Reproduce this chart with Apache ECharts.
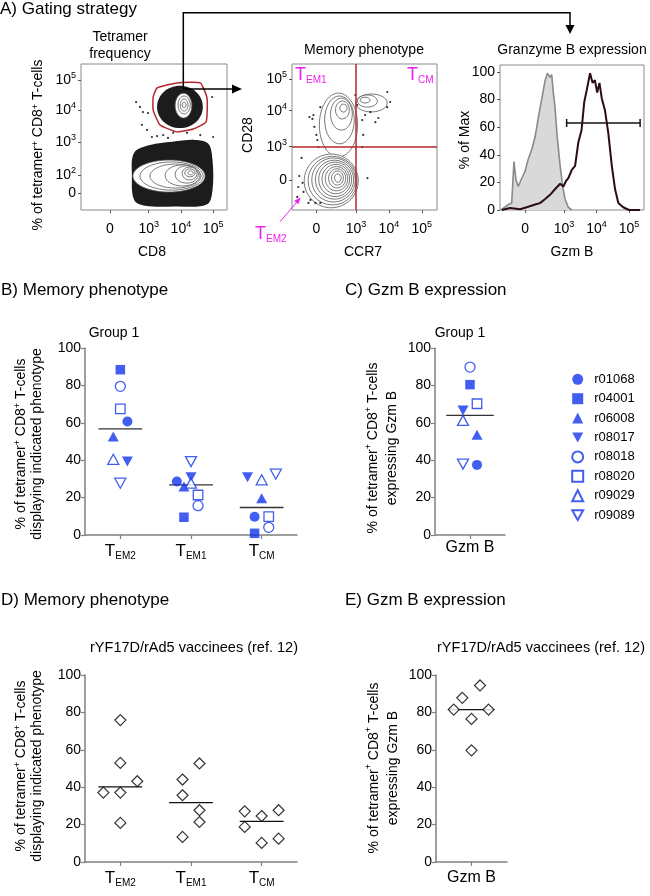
<!DOCTYPE html>
<html>
<head>
<meta charset="utf-8">
<script src="https://cdn.jsdelivr.net/npm/echarts@6/dist/echarts.min.js"></script>
<style>
  html, body { margin: 0; padding: 0; background: #fff; }
  #chart { width: 650px; height: 896px; }
</style>
</head>
<body>
<div id="chart"></div>
<script>
// ---------- data: panel A (flow plots, biexponential display units) ----------
var logTicksX = [0, 1.2, 2.2, 3.2];
var logLabelsX = ['0', '10{s|3}', '10{s|4}', '10{s|5}'];
var a1YTicks = [0, 0.56, 1.6, 2.59, 3.53];
var a1YLabels = ['0', '10{s|2}', '10{s|3}', '10{s|4}', '10{s|5}'];
var a2YTicks = [0, 1.04, 2.17, 3.16];
var a2YLabels = ['0', '10{s|3}', '10{s|4}', '10{s|5}'];
var a3YTicks = [0, 20, 40, 60, 80, 100];

// A1: tetramer vs CD8 - event clouds, contour rings [cx, cy, rx, ry], gate, outliers
var a1LowCloud = [[0.75, 1.26], [1.24, 1.5], [1.93, 1.6], [2.64, 1.66], [3.05, 1.54], [3.18, 1.03], [3.18, 0.09], [3.0, -0.36], [2.02, -0.42], [1.09, -0.4], [0.75, -0.22], [0.68, 0.56]];
var a1HighCloud = [[2.17, 2.69, 0.71, 0.66]];
var a1LowRings = [[1.83, 0.53, 1.12, 0.5], [1.91, 0.53, 0.98, 0.44], [2.03, 0.53, 0.79, 0.375], [2.25, 0.55, 0.54, 0.33], [2.38, 0.58, 0.36, 0.27], [2.47, 0.61, 0.23, 0.2], [2.48, 0.63, 0.16, 0.125], [2.5, 0.63, 0.08, 0.06]];
var a1HighRings = [[2.28, 2.73, 0.26, 0.39], [2.3, 2.75, 0.19, 0.28], [2.3, 2.75, 0.12, 0.19], [2.3, 2.75, 0.06, 0.09]];
var a1Gate = [[1.46, 3.28], [2.08, 3.44], [2.8, 3.44], [3.01, 2.97], [2.98, 2.22], [2.58, 2.0], [2.08, 1.91], [1.55, 2.13], [1.34, 2.59], [1.34, 3.0]];
var a1Dots = [[0.81, 2.84], [0.93, 2.69], [1.02, 2.53], [0.99, 2.13], [1.15, 1.97], [1.3, 1.75], [1.46, 1.78], [1.65, 1.81], [1.8, 1.72], [1.96, 1.88], [2.39, 1.88], [2.8, 1.81], [3.17, 3.0], [3.2, 1.75], [1.18, 2.5]];

// A2: CD28 vs CCR7
var a2ColumnRings = [[0.67, 1.72, 0.58, 1.0], [0.7, 1.88, 0.45, 0.75], [0.76, 2.06, 0.33, 0.5], [0.79, 2.19, 0.21, 0.28], [0.82, 2.25, 0.11, 0.125]];
var a2TopRings = [[1.67, 2.41, 0.48, 0.28], [1.55, 2.47, 0.3, 0.19], [1.48, 2.5, 0.15, 0.09]];
var a2LowRings = [[0.45, -0.03, 0.82, 0.84], [0.49, -0.02, 0.74, 0.76], [0.52, 0, 0.66, 0.69], [0.55, 0.01, 0.58, 0.61], [0.57, 0.02, 0.5, 0.54], [0.59, 0.03, 0.42, 0.46], [0.61, 0.04, 0.34, 0.38], [0.63, 0.05, 0.26, 0.3], [0.64, 0.06, 0.18, 0.22], [0.65, 0.06, 0.1, 0.13]];
var a2Dots = [[-0.45, 0.69], [-0.52, 0.125], [-0.42, -0.09], [-0.55, -0.22], [-0.39, -0.375], [-0.58, -0.53], [-0.18, -0.625], [-0.24, -0.72], [-0.03, -0.72], [0.12, -0.72], [-0.21, 1.97], [-0.12, 1.91], [-0.09, 2.03], [-0.06, 1.66], [0, 1.41], [0.03, 1.25], [0.06, 1.03], [0.12, 2.28], [1.18, 2.66], [1.24, 2.34], [1.39, 1.875], [1.48, 2.03], [1.64, 2.125], [1.79, 1.81], [1.88, 1.94], [1.42, 1.41], [1.39, 1.03], [1.55, 0.06], [2.15, 2.75], [2.24, 2.44], [2.15, 2.28]];
var a2GateX = 1.2;
var a2GateY = 1.03;

// A3: granzyme B histograms (% of max)
var a3GrayX = [-0.72, -0.51, -0.41, -0.34, -0.28, -0.21, -0.1, 0, 0.1, 0.21, 0.31, 0.41, 0.51, 0.62, 0.69, 0.77, 0.82, 0.87, 0.92, 0.99, 1.08, 1.16, 1.23, 1.33, 1.44];
var a3GrayY = [0.5, 4, 5, 35, 22, 17, 23, 28, 37, 44, 53, 67, 80, 94, 99, 96, 98, 85, 75, 53, 32, 17, 8, 2, 0];
var a3DarkX = [-0.72, -0.46, -0.15, 0.05, 0.31, 0.46, 0.62, 0.77, 0.92, 1.08, 1.18, 1.26, 1.33, 1.44, 1.54, 1.64, 1.74, 1.82, 1.9, 2.0, 2.08, 2.15, 2.22, 2.29, 2.36, 2.46, 2.56, 2.67, 2.77, 2.87, 3.02, 3.2, 3.54];
var a3DarkY = [0, 1.5, 0.5, 2, 4, 5, 8, 11, 15, 19, 17, 21, 23, 29, 32, 49, 58, 78, 87, 99, 92, 94, 85, 92, 81, 72, 56, 32, 15, 5, 2, 0, 0];
var a3Gate = [1.28, 3.54, 63];

// ---------- data: panels B-E ----------
var memCats = ['EM2', 'EM1', 'CM'];
var animals = ['r01068', 'r04001', 'r06008', 'r08017', 'r08018', 'r08020', 'r09029', 'r09089'];
var bTEM2 = [60.7, 88.4, 52.7, 39.3, 79.5, 67.5, 40.5, 27.7];
var bTEM2Dx = [0.1, 0, -0.1, 0.1, 0, 0, -0.1, 0];
var bTEM1 = [28.6, 9.5, 25.9, 30.9, 15.7, 21.4, 27.7, 39.3];
var bTEM1Dx = [-0.2, -0.1, -0.1, 0, 0.1, 0.1, 0, 0];
var bTCM = [9.8, 0.9, 19.6, 30.9, 4.1, 9.8, 29.5, 32.5];
var bTCMDx = [-0.1, -0.1, 0, -0.2, 0.1, 0.1, 0, 0.2];
var cGzmB = [37.5, 80.4, 53.6, 66.6, 89.8, 70.2, 61.3, 37.9];
var cGzmBDx = [0.1, 0, 0.1, -0.1, 0, 0.1, -0.1, -0.1];

var dTEM2 = [75.9, 53.0, 43.2, 37.1, 37.1, 20.9];
var dTEM2Dx = [0, 0, 0.24, -0.24, 0, 0];
var dTEM1 = [52.7, 44.1, 35.7, 27.7, 21.4, 13.4];
var dTEM1Dx = [0.12, -0.12, -0.12, 0.12, 0.12, -0.12];
var dTCM = [27.7, 27.1, 24.6, 18.75, 12.5, 10.2];
var dTCMDx = [0.24, -0.24, 0, -0.24, 0.24, 0];
var eGzmB = [94.4, 87.8, 81.5, 81.5, 76.5, 59.7];
var eGzmBDx = [0.12, -0.13, -0.25, 0.24, 0, 0];

// ---------- styles ----------
var FONT = '"Liberation Sans", Arial, Helvetica, sans-serif';
var BLUE = '#1236ec';
var MAGENTA = '#ee22ee';
var GATE_RED = '#b3272d';
var AXIS_GRAY = '#808080';
var CLOUD = '#1c1c1c';
var DOWN = 'path://M0,0L10,0L5,9Z';
var animalSymbol = ['circle', 'rect', 'triangle', DOWN, 'circle', 'rect', 'triangle', DOWN];
var animalOpen = [false, false, false, false, true, true, true, true];
var symSize = { circle: 10, rect: 9.5, triangle: [11, 10] };
symSize[DOWN] = [11, 10];

var supRich = { s: { fontSize: 9, lineHeight: 9, verticalAlign: 'top', fontFamily: FONT, color: '#000' } };
var subRich = {
    t: { fontSize: 17, lineHeight: 20, fontFamily: FONT, color: '#000' },
    s: { fontSize: 10, lineHeight: 10, verticalAlign: 'bottom', fontFamily: FONT, color: '#000' }
};

function median(arr) {
    var s = arr.slice().sort(function (a, b) { return a - b; }), n = s.length;
    return n % 2 ? s[(n - 1) / 2] : (s[n / 2 - 1] + s[n / 2]) / 2;
}
function pick(ticks, labels) {
    return function (v) {
        for (var i = 0; i < ticks.length; i++) { if (Math.abs(ticks[i] - v) < 1e-6) return labels[i]; }
        return '';
    };
}
function jitter(base, vals, dx) {
    return vals.map(function (v, i) { return [base + dx[i], v]; });
}

// ---------- axes ----------
function flowX(g, min, max) {
    return {
        type: 'value', gridIndex: g, min: min, max: max,
        axisLine: { show: false, onZero: false }, splitLine: { show: false },
        axisTick: { show: true, customValues: logTicksX, length: 3, lineStyle: { color: '#555' } },
        axisLabel: { customValues: logTicksX, formatter: pick(logTicksX, logLabelsX), margin: 10, fontSize: 14, lineHeight: 18, color: '#000', fontFamily: FONT, rich: supRich }
    };
}
function flowY(g, min, max, ticks, labels) {
    return {
        type: 'value', gridIndex: g, min: min, max: max,
        axisLine: { show: false, onZero: false }, splitLine: { show: false },
        axisTick: { show: true, customValues: ticks, length: 3, lineStyle: { color: '#555' } },
        axisLabel: { customValues: ticks, formatter: labels ? pick(ticks, labels) : '{value}', margin: 5, fontSize: 14, lineHeight: 18, color: '#000', fontFamily: FONT, rich: supRich }
    };
}
function dotX(g, n, labelFn, margin) {
    var ticks = [];
    for (var i = 0; i < n; i++) ticks.push(i);
    return {
        type: 'value', gridIndex: g, min: -0.5, max: n - 0.5,
        axisLine: { show: true, onZero: false, lineStyle: { color: AXIS_GRAY, width: 1.5 } },
        splitLine: { show: false },
        axisTick: { show: true, customValues: ticks, length: 4, lineStyle: { color: AXIS_GRAY, width: 1.2 } },
        axisLabel: { customValues: ticks, formatter: labelFn, margin: margin, fontSize: 16, color: '#000', fontFamily: FONT, rich: subRich }
    };
}
function dotY(g) {
    return {
        type: 'value', gridIndex: g, min: 0, max: 100, interval: 20,
        axisLine: { show: true, onZero: false, lineStyle: { color: AXIS_GRAY, width: 1.5 } },
        splitLine: { show: false },
        axisTick: { show: true, length: 4, lineStyle: { color: AXIS_GRAY, width: 1.2 } },
        axisLabel: { margin: 4, fontSize: 14, color: '#000', fontFamily: FONT }
    };
}
var memLabel = function (v) { return '{t|T}{s|' + memCats[Math.round(v)] + '}'; };
var gzmLabel = function () { return 'Gzm B'; };

// ---------- series helpers ----------
function ringSeries(g, rings, fill, stroke, lw) {
    return {
        type: 'custom', xAxisIndex: g, yAxisIndex: g, clip: true, silent: true, data: rings,
        renderItem: function (params, api) {
            var c = api.coord([api.value(0), api.value(1)]);
            var s = api.size([api.value(2), api.value(3)]);
            return { type: 'ellipse', shape: { cx: c[0], cy: c[1], rx: s[0], ry: s[1] }, style: { fill: fill, stroke: stroke, lineWidth: lw } };
        }
    };
}
function polySeries(g, pts, fill, stroke, lw, smooth) {
    return {
        type: 'custom', xAxisIndex: g, yAxisIndex: g, clip: true, silent: true, data: pts,
        renderItem: function (params, api) {
            if (params.dataIndex !== 0) return null;
            var p = pts.map(function (q) { return api.coord(q); });
            return { type: 'polygon', shape: { points: p, smooth: smooth }, style: { fill: fill, stroke: stroke, lineWidth: lw } };
        }
    };
}
function dotsSeries(g, pts, extra) {
    var s = { type: 'scatter', xAxisIndex: g, yAxisIndex: g, data: pts, symbol: 'circle', symbolSize: 2.2, itemStyle: { color: '#000' }, silent: true, clip: true, z: 3 };
    for (var k in extra) s[k] = extra[k];
    return s;
}
function medianSeries(g, meds, half, color) {
    return {
        type: 'custom', xAxisIndex: g, yAxisIndex: g, silent: true, z: 1,
        data: meds,
        renderItem: function (params, api) {
            var a = api.coord([api.value(0) - half, api.value(1)]);
            var b = api.coord([api.value(0) + half, api.value(1)]);
            return { type: 'line', shape: { x1: a[0], y1: a[1], x2: b[0], y2: b[1] }, style: { stroke: color, lineWidth: 1.3 } };
        }
    };
}
function animalSeries(i, g, data) {
    var sym = animalSymbol[i];
    return {
        type: 'scatter', name: animals[i], xAxisIndex: g, yAxisIndex: g, data: data, z: 3,
        symbol: sym, symbolSize: symSize[sym],
        itemStyle: animalOpen[i] ? { color: '#fff', borderColor: BLUE, borderWidth: 1.3 } : { color: BLUE, borderColor: BLUE, borderWidth: 0 }
    };
}

// ---------- series ----------
var series = [];
for (var i = 0; i < animals.length; i++) {
    series.push(animalSeries(i, 3, [[0 + bTEM2Dx[i], bTEM2[i]], [1 + bTEM1Dx[i], bTEM1[i]], [2 + bTCMDx[i], bTCM[i]]]));
}
for (var j = 0; j < animals.length; j++) {
    series.push(animalSeries(j, 4, [[cGzmBDx[j], cGzmB[j]]]));
}
series.push(medianSeries(3, [[0, median(bTEM2)], [1, median(bTEM1)], [2, median(bTCM)]], 0.31, '#333'));
series.push(medianSeries(4, [[0, median(cGzmB)]], 0.34, '#333'));

var diamond = { type: 'scatter', symbol: 'diamond', symbolSize: 11, z: 3, itemStyle: { color: '#fff', borderColor: '#000', borderWidth: 1.2 } };
series.push(Object.assign({}, diamond, { xAxisIndex: 5, yAxisIndex: 5, data: jitter(0, dTEM2, dTEM2Dx).concat(jitter(1, dTEM1, dTEM1Dx), jitter(2, dTCM, dTCMDx)) }));
series.push(Object.assign({}, diamond, { xAxisIndex: 6, yAxisIndex: 6, data: jitter(0, eGzmB, eGzmBDx) }));
series.push(medianSeries(5, [[0, median(dTEM2)], [1, median(dTEM1)], [2, median(dTCM)]], 0.31, '#111'));
series.push(medianSeries(6, [[0, median(eGzmB)]], 0.32, '#111'));

// panel A1
series.push(polySeries(0, a1LowCloud, CLOUD, null, 0, 0.35));
series.push(ringSeries(0, a1HighCloud, CLOUD, null, 0));
series.push(ringSeries(0, a1LowRings, '#fff', '#555', 0.8));
series.push(ringSeries(0, a1HighRings, '#fff', '#555', 0.8));
series.push(dotsSeries(0, a1Dots));
series.push(polySeries(0, a1Gate, 'none', GATE_RED, 1.5, 0.15));

// panel A2
series.push(ringSeries(1, a2ColumnRings, '#fff', '#555', 0.8));
series.push(ringSeries(1, a2TopRings, '#fff', '#555', 0.8));
series.push(ringSeries(1, a2LowRings, '#fff', '#555', 0.8));
series.push(dotsSeries(1, a2Dots, {
    markLine: {
        silent: true, symbol: 'none', label: { show: false }, animation: false,
        lineStyle: { color: GATE_RED, width: 1.5, type: 'solid' },
        data: [{ xAxis: a2GateX }, { yAxis: a2GateY }]
    }
}));

// panel A3
series.push({
    type: 'line', xAxisIndex: 2, yAxisIndex: 2, showSymbol: false, clip: true, silent: true,
    data: a3GrayX.map(function (x, k) { return [x, a3GrayY[k]]; }),
    lineStyle: { color: '#8a8a8a', width: 1.6 }, areaStyle: { color: '#d9d9d9', opacity: 1 }
});
series.push({
    type: 'line', xAxisIndex: 2, yAxisIndex: 2, showSymbol: false, clip: true, silent: true,
    data: a3DarkX.map(function (x, k) { return [x, a3DarkY[k]]; }),
    lineStyle: { color: '#2d0b16', width: 2 }
});
series.push({
    type: 'custom', xAxisIndex: 2, yAxisIndex: 2, silent: true, data: [a3Gate],
    renderItem: function (params, api) {
        var a = api.coord([api.value(0), api.value(2)]), b = api.coord([api.value(1), api.value(2)]);
        var st = { stroke: '#111', lineWidth: 1.5 };
        return { type: 'group', children: [
            { type: 'line', shape: { x1: a[0], y1: a[1], x2: b[0], y2: b[1] }, style: st },
            { type: 'line', shape: { x1: a[0], y1: a[1] - 4, x2: a[0], y2: a[1] + 4 }, style: st },
            { type: 'line', shape: { x1: b[0], y1: b[1] - 4, x2: b[0], y2: b[1] + 4 }, style: st }
        ] };
    }
});

// ---------- free text & arrows ----------
function txt(x, y, text, size, opt) {
    opt = opt || {};
    return {
        type: 'text', x: x, y: y, rotation: opt.rot || 0, z: 100, silent: true,
        style: {
            text: text, fill: opt.color || '#000', fontSize: size, fontFamily: FONT, lineHeight: opt.lh,
            align: opt.align || 'center', textAlign: opt.align || 'center',
            verticalAlign: 'middle', textVerticalAlign: 'middle', rich: opt.rich
        }
    };
}
var nameRich = { s: { fontSize: 9, lineHeight: 9, verticalAlign: 'top', fontFamily: FONT, fill: '#000' } };
var quadRich = {
    t: { fontSize: 18, lineHeight: 20, fontFamily: FONT, fill: MAGENTA },
    s: { fontSize: 10, lineHeight: 10, verticalAlign: 'bottom', fontFamily: FONT, fill: MAGENTA }
};
var tetName = '% of tetramer{s|+} CD8{s|+} T-cells';
var up = Math.PI / 2;

var graphics = [
    txt(0, 9, 'A) Gating strategy', 17, { align: 'left' }),
    txt(120, 45.5, 'Tetramer\nfrequency', 14, { lh: 17.6 }),
    txt(364, 50, 'Memory phenotype', 14),
    txt(572, 50, 'Granzyme B expression', 14),
    txt(38, 145, tetName, 14, { rot: up, rich: nameRich }),
    txt(152, 252, 'CD8', 14),
    txt(248, 135, 'CD28', 14, { rot: up }),
    txt(363, 252, 'CCR7', 14),
    txt(465, 140, '% of Max', 14, { rot: up }),
    txt(572, 252, 'Gzm B', 14),
    txt(295, 75, '{t|T}{s|EM1}', 18, { align: 'left', rich: quadRich }),
    txt(407, 75, '{t|T}{s|CM}', 18, { align: 'left', rich: quadRich }),
    txt(255, 234, '{t|T}{s|EM2}', 18, { align: 'left', rich: quadRich }),

    txt(1, 290, 'B) Memory phenotype', 17, { align: 'left' }),
    txt(114, 333, 'Group 1', 14),
    txt(29, 444, tetName + '\ndisplaying indicated phenotype', 14, { rot: up, lh: 16, rich: nameRich }),
    txt(345, 290, 'C) Gzm B expression', 17, { align: 'left' }),
    txt(460, 333, 'Group 1', 14),
    txt(383, 448, tetName + '\nexpressing Gzm B', 14, { rot: up, lh: 19, rich: nameRich }),

    txt(1, 600, 'D) Memory phenotype', 17, { align: 'left' }),
    txt(194, 648, 'rYF17D/rAd5 vaccinees (ref. 12)', 14.5),
    txt(29, 766, tetName + '\ndisplaying indicated phenotype', 14, { rot: up, lh: 16, rich: nameRich }),
    txt(345, 600, 'E) Gzm B expression', 17, { align: 'left' }),
    txt(541, 648, 'rYF17D/rAd5 vaccinees (ref. 12)', 14.5),
    txt(383.5, 768, tetName + '\nexpressing Gzm B', 14, { rot: up, lh: 19, rich: nameRich }),

    { type: 'polyline', z: 100, shape: { points: [[183.3, 89], [183.3, 12.7], [570, 12.7], [570, 27]] }, style: { stroke: '#000', lineWidth: 1.5, fill: 'none' } },
    { type: 'polygon', z: 100, shape: { points: [[565.5, 25], [574.5, 25], [570, 34]] }, style: { fill: '#000' } },
    { type: 'line', z: 100, shape: { x1: 183.3, y1: 89, x2: 234, y2: 89 }, style: { stroke: '#000', lineWidth: 1.5 } },
    { type: 'polygon', z: 100, shape: { points: [[232, 84.5], [242, 89], [232, 93.5]] }, style: { fill: '#000' } },
    { type: 'line', z: 100, shape: { x1: 280, y1: 221.7, x2: 296.5, y2: 202.5 }, style: { stroke: MAGENTA, lineWidth: 1 } },
    { type: 'polygon', z: 100, shape: { points: [[300.7, 197.3], [298.3, 204.3], [294.1, 200.9]] }, style: { fill: MAGENTA } }
];

// ---------- chart ----------
var myChart = echarts.init(document.getElementById('chart'), null, { renderer: 'canvas' });
var chartOptions = {
    animation: false,
    backgroundColor: '#fff',
    textStyle: { fontFamily: FONT },
    grid: [
        { left: 81, top: 64, width: 146, height: 146, show: true, borderColor: '#8a8a8a', borderWidth: 1, backgroundColor: 'transparent' },
        { left: 292, top: 64, width: 145, height: 146, show: true, borderColor: '#8a8a8a', borderWidth: 1, backgroundColor: 'transparent' },
        { left: 500, top: 65, width: 144, height: 145, show: true, borderColor: '#8a8a8a', borderWidth: 1, backgroundColor: 'transparent' },
        { left: 85, top: 348, width: 212, height: 187 },
        { left: 435, top: 348, width: 70, height: 187 },
        { left: 85, top: 675, width: 212, height: 187 },
        { left: 436, top: 675, width: 71, height: 187 }
    ],
    xAxis: [
        flowX(0, -0.9, 3.63),
        flowX(1, -0.74, 3.66),
        flowX(2, -0.77, 3.66),
        dotX(3, 3, memLabel, 6),
        dotX(4, 1, gzmLabel, 5),
        dotX(5, 3, memLabel, 6),
        dotX(6, 1, gzmLabel, 8)
    ],
    yAxis: [
        flowY(0, -0.53, 4.03, a1YTicks, a1YLabels),
        flowY(1, -0.94, 3.63, a2YTicks, a2YLabels),
        flowY(2, 0, 105, a3YTicks, null),
        dotY(3), dotY(4), dotY(5), dotY(6)
    ],
    legend: {
        data: animals, orient: 'vertical', left: 571.2, top: 372.8, padding: 0,
        itemWidth: 11, itemHeight: 11, itemGap: 6.4, selectedMode: false,
        textStyle: { fontSize: 13, fontFamily: FONT, color: '#000', lineHeight: 11, padding: [0, 0, 0, 6] }
    },
    graphic: graphics,
    series: series
};
myChart.setOption(chartOptions);
</script>
</body>
</html>
